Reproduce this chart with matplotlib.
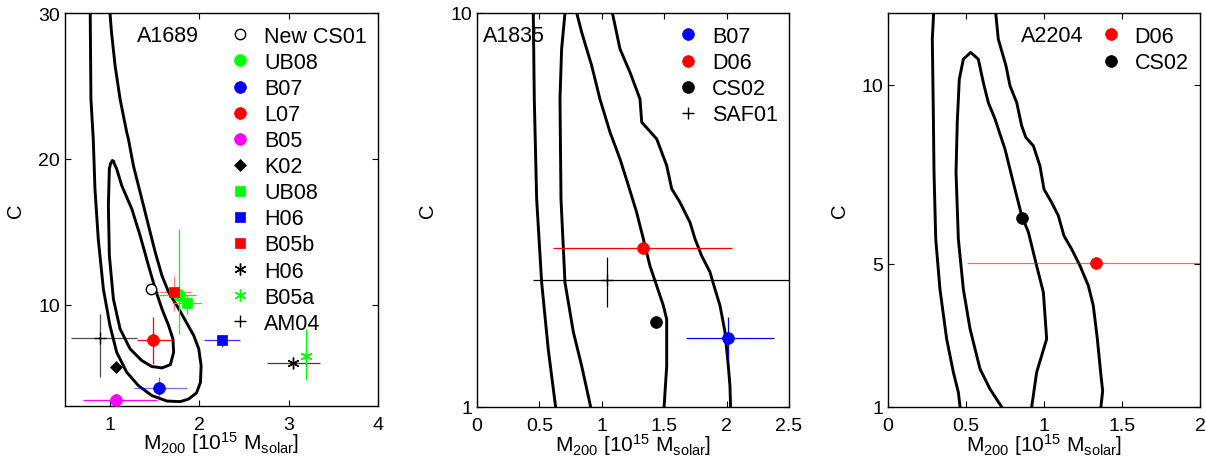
import numpy as np
import matplotlib
matplotlib.use('Agg')
import matplotlib.pyplot as plt
from matplotlib.lines import Line2D
from matplotlib.ticker import NullLocator
from matplotlib.colors import to_rgba

plt.rcParams['font.family'] = ['Liberation Sans', 'DejaVu Sans']
plt.rcParams['mathtext.fontset'] = 'custom'
plt.rcParams['mathtext.rm'] = 'Liberation Sans'
plt.rcParams['mathtext.it'] = 'Liberation Sans:italic'
plt.rcParams['mathtext.bf'] = 'Liberation Sans:bold'

nan = np.nan

# ---------------- A1689 ----------------
a1689_labels = ['New CS01', 'UB08', 'B07', 'L07', 'B05', 'K02',
                'UB08', 'H06', 'B05b', 'H06', 'B05a', 'AM04']
a1689_m = [1.46, 1.77, 1.555, 1.48, 1.07, 1.067, 1.865, 2.25, 1.72, 3.05, 3.19, 0.89]
a1689_c = [11.1, 10.68, 4.29, 7.62, 3.49, 5.73, 10.12, 7.62, 10.87, 6.0, 6.5, 7.72]
a1689_m_lo = [nan, 1.55, 1.27, 1.30, 0.70, nan, 1.70, 2.05, 1.53, 2.755, nan, 0.565]
a1689_m_hi = [nan, 1.96, 1.865, 1.70, 1.53, nan, 2.02, 2.46, 1.91, 3.355, nan, 1.31]
a1689_c_lo = [nan, 8.0, 3.5, 5.96, 3.0, nan, 9.38, 7.12, 9.6, nan, 4.88, 5.09]
a1689_c_hi = [nan, 15.2, 5.09, 9.17, 3.9, nan, 10.75, 7.95, 12.0, nan, 8.36, 9.38]

a1689_outer_m = [0.781, 0.782, 0.79, 0.816, 0.835, 0.872, 0.929, 1.003, 1.078, 1.19,
                 1.322, 1.472, 1.64, 1.79, 1.883, 1.97, 2.015, 2.022, 1.996, 1.94,
                 1.846, 1.752, 1.659, 1.584, 1.509, 1.434, 1.359, 1.265, 1.209, 1.19,
                 1.116, 1.06, 1.02, 1.003, 1.0]
a1689_outer_c = [31, 30, 24.1, 21.37, 17.95, 14.52, 11.10, 8.58, 6.76, 5.39,
                 4.47, 3.79, 3.42, 3.38, 3.56, 3.97, 4.70, 5.85, 6.99, 7.9,
                 8.93, 9.95, 10.87, 12.01, 13.61, 15.43, 17.26, 19.54, 21.37, 21.83,
                 24.1, 26.4, 28.68, 30, 31]
a1689_inner_m = [1.041, 1.03, 1.01, 0.996, 0.985, 0.996, 1.041, 1.116, 1.228, 1.359,
                 1.472, 1.584, 1.678, 1.715, 1.707, 1.659, 1.584, 1.509, 1.434, 1.34,
                 1.247, 1.135, 1.078, 1.041]
a1689_inner_c = [19.82, 19.9, 19.7, 19.32, 16.8, 13.38, 10.41, 8.36, 6.99, 6.19,
                 5.78, 5.69, 5.91, 6.76, 7.67, 8.58, 9.73, 11.10, 12.69, 14.75,
                 16.58, 18.17, 19.32, 19.82]

# ---------------- A1835 ----------------
a1835_labels = ['B07', 'D06', 'CS02', 'SAF01']
a1835_m = [2.009, 1.328, 1.434, 1.039]
a1835_c = [1.494, 2.53, 1.646, 2.10]
a1835_m_lo = [1.675, 0.611, nan, 0.446]
a1835_m_hi = [2.382, 2.041, nan, 2.7]
a1835_c_lo = [1.318, nan, nan, 1.79]
a1835_c_hi = [1.696, nan, nan, 2.40]

a1835_curve1_m = [0.451, 0.459, 0.478, 0.518, 0.571, 0.63]
a1835_curve1_c = [10.0, 6.05, 3.37, 2.07, 1.40, 1.0]
a1835_curve2_m = [0.705, 0.678, 0.665, 0.673, 0.705, 0.772, 0.839, 0.911]
a1835_curve2_c = [10.0, 8.10, 6.05, 3.37, 2.07, 1.55, 1.27, 1.0]
a1835_curve3_m = [0.799, 0.839, 0.919, 0.985, 1.066, 1.146, 1.213, 1.279, 1.333,
                  1.386, 1.44, 1.493, 1.52, 1.52, 1.499]
a1835_curve3_c = [10.0, 8.93, 7.35, 6.05, 4.98, 4.26, 3.65, 3.12, 2.67,
                  2.28, 2.03, 1.81, 1.67, 1.27, 1.0]
a1835_curve4_m = [1.085, 1.146, 1.226, 1.306, 1.32, 1.44, 1.52, 1.56, 1.626, 1.707,
                  1.747, 1.8, 1.867, 1.907, 1.947, 1.987, 2.014, 2.027, 2.032]
a1835_curve4_c = [10.0, 8.10, 7.07, 6.05, 5.28, 4.79, 4.10, 3.58, 3.31, 2.94,
                  2.67, 2.42, 2.20, 1.99, 1.81, 1.55, 1.27, 1.13, 1.0]

# ---------------- A2204 ----------------
a2204_labels = ['D06', 'CS02']
a2204_m = [1.331, 0.861]
a2204_c = [5.02, 6.29]
a2204_m_lo = [0.509, nan]
a2204_m_hi = [2.3, nan]

a2204_curveA_m = [0.295, 0.284, 0.290, 0.295, 0.306, 0.333, 0.376, 0.419, 0.451, 0.462]
a2204_curveA_c = [12.2, 11.27, 9.41, 7.55, 5.69, 4.29, 2.90, 1.97, 1.41, 1.0]
a2204_curveB_m = [0.729, 0.654, 0.59, 0.526, 0.483, 0.451, 0.436, 0.444, 0.457, 0.483,
                  0.530, 0.579, 0.611, 0.643, 0.686, 0.750, 0.803, 0.857, 0.9, 0.953,
                  0.996, 1.017, 0.953, 0.921]
a2204_curveB_c = [1.0, 1.50, 2.06, 3.18, 4.29, 5.69, 7.55, 8.95, 10.15, 10.71,
                  10.90, 10.71, 10.06, 9.50, 9.04, 8.20, 7.27, 6.34, 5.88, 4.94,
                  4.20, 2.90, 1.97, 1.0]
a2204_curveC_m = [0.686, 0.707, 0.756, 0.782, 0.825, 0.857, 0.883, 0.932, 0.974, 1.0,
                  1.049, 1.092, 1.128, 1.177, 1.231, 1.284, 1.316, 1.342, 1.363, 1.376, 1.365]
a2204_curveC_c = [12.2, 11.27, 10.53, 9.97, 9.50, 8.85, 8.53, 8.29, 7.73, 7.08,
                  6.71, 6.34, 5.78, 5.41, 4.94, 4.39, 3.83, 2.90, 1.97, 1.45, 1.0]

GREEN = '#00ff00'
BLUE = '#0000ff'
RED = '#ff0000'
MAG = '#ff00ff'
BLACK = '#000000'
STAR = (6, 2, 0)

a1689_style = [  # marker, color, facecolor, size, errorbar alpha
    ('o', BLACK, 'white', 7.5, 1.0),
    ('o', GREEN, GREEN, 8.5, 1.0),
    ('o', BLUE, BLUE, 8.5, 0.55),
    ('o', RED, RED, 8.5, 1.0),
    ('o', MAG, MAG, 8.5, 1.0),
    ('D', BLACK, BLACK, 6.5, 1.0),
    ('s', GREEN, GREEN, 7.0, 1.0),
    ('s', BLUE, BLUE, 7.0, 0.8),
    ('s', RED, RED, 7.0, 0.5),
    (STAR, BLACK, BLACK, 8.5, 0.75),
    (STAR, GREEN, GREEN, 8.5, 1.0),
    ('+', BLACK, BLACK, 8.0, 0.7),
]
a1835_style = [
    ('o', BLUE, BLUE, 8.5, 1.0),
    ('o', RED, RED, 8.5, 1.0),
    ('o', BLACK, BLACK, 8.5, 1.0),
    ('+', BLACK, BLACK, 8.0, 1.0),
]
a2204_style = [
    ('o', RED, RED, 8.5, 0.6),
    ('o', BLACK, BLACK, 8.5, 1.0),
]

CONTOUR_LW = 2.1
ERR_LW = 0.9
TICK_FS = 14
LAB_FS = 14.5
XLAB_FS = 15
LEG_FS = 15.5

fig = plt.figure(figsize=(12.05, 4.64), dpi=100)
ax1 = fig.add_axes([65 / 1205, 1 - 407 / 464, 313 / 1205, 393 / 464])
ax2 = fig.add_axes([477 / 1205, 1 - 408 / 464, 312 / 1205, 394 / 464])
ax3 = fig.add_axes([888 / 1205, 1 - 408 / 464, 312 / 1205, 394 / 464])


def draw_points(ax, m, c, mlo, mhi, clo, chi, styles, labels):
    handles = []
    for i in range(len(m)):
        mk, col, fc, ms, ea = styles[i]
        ecol = to_rgba(col, ea)
        xerr = None
        yerr = None
        if not np.isnan(mlo[i]):
            xerr = [[m[i] - mlo[i]], [mhi[i] - m[i]]]
        if clo is not None and not np.isnan(clo[i]):
            yerr = [[c[i] - clo[i]], [chi[i] - c[i]]]
        if xerr is not None or yerr is not None:
            ax.errorbar([m[i]], [c[i]], xerr=xerr, yerr=yerr, fmt='none',
                        ecolor=ecol, elinewidth=ERR_LW, capsize=0, zorder=3)
        mew = 1.0 if mk in ('+', STAR) or fc == 'white' else 0.5
        ax.plot([m[i]], [c[i]], linestyle='none', marker=mk, markersize=ms,
                markerfacecolor=fc, markeredgecolor=col, markeredgewidth=mew, zorder=4)
        handles.append(Line2D([], [], linestyle='none', marker=mk, markersize=ms,
                              markerfacecolor=fc, markeredgecolor=col,
                              markeredgewidth=mew, label=labels[i]))
    return handles


def style_axes(ax):
    ax.tick_params(direction='in', top=True, right=True, length=4, width=0.8,
                   labelsize=TICK_FS)
    ax.tick_params(axis='x', pad=7)
    ax.tick_params(axis='y', pad=3.5)
    for s in ax.spines.values():
        s.set_linewidth(1.0)
    ax.set_xlabel(r'M$_\mathrm{200}$ [10$^\mathrm{15}$ M$_\mathrm{solar}$]', fontsize=XLAB_FS)
    ax.set_ylabel('C', fontsize=LAB_FS)
    ax.xaxis.set_label_coords(0.5, -0.06)


def make_legend(ax, handles, x):
    ax.legend(handles=handles, loc='upper left', bbox_to_anchor=(x, 0.967),
              frameon=False, fontsize=LEG_FS, handlelength=1.0, handletextpad=0.62,
              labelspacing=0.235, borderpad=0, borderaxespad=0, numpoints=1)


# --- panel 1
ax1.plot(a1689_outer_m, a1689_outer_c, color='k', lw=CONTOUR_LW, zorder=2)
ax1.plot(a1689_inner_m, a1689_inner_c, color='k', lw=CONTOUR_LW, zorder=2)
h1 = draw_points(ax1, a1689_m, a1689_c, a1689_m_lo, a1689_m_hi, a1689_c_lo, a1689_c_hi,
                 a1689_style, a1689_labels)
ax1.set_xlim(0.5, 4)
ax1.set_ylim(3.08, 30)
ax1.set_xticks([1, 2, 3, 4])
ax1.set_yticks([10, 20, 30])
style_axes(ax1)
ax1.yaxis.set_label_coords(-0.128, 0.5)
make_legend(ax1, h1, 0.524)
ax1.text(0.230, 0.944, 'A1689', transform=ax1.transAxes, fontsize=LEG_FS, va='center')

# --- panel 2
for cm, cc in [(a1835_curve1_m, a1835_curve1_c), (a1835_curve2_m, a1835_curve2_c),
               (a1835_curve3_m, a1835_curve3_c), (a1835_curve4_m, a1835_curve4_c)]:
    ax2.plot(cm, cc, color='k', lw=CONTOUR_LW, zorder=2)
h2 = draw_points(ax2, a1835_m, a1835_c, a1835_m_lo, a1835_m_hi, a1835_c_lo, a1835_c_hi,
                 a1835_style, a1835_labels)
ax2.set_yscale('log')
ax2.set_xlim(0, 2.5)
ax2.set_ylim(1, 10)
ax2.yaxis.set_minor_locator(NullLocator())
ax2.set_yticks([1, 10])
ax2.set_yticklabels(['1', '10'])
ax2.set_xticks([0, 0.5, 1, 1.5, 2, 2.5])
ax2.set_xticklabels(['0', '0.5', '1', '1.5', '2', '2.5'])
style_axes(ax2)
ax2.yaxis.set_label_coords(-0.129, 0.5)
make_legend(ax2, h2, 0.641)
ax2.text(0.019, 0.944, 'A1835', transform=ax2.transAxes, fontsize=LEG_FS, va='center')

# --- panel 3
for cm, cc in [(a2204_curveA_m, a2204_curveA_c), (a2204_curveB_m, a2204_curveB_c),
               (a2204_curveC_m, a2204_curveC_c)]:
    ax3.plot(cm, cc, color='k', lw=CONTOUR_LW, zorder=2)
h3 = draw_points(ax3, a2204_m, a2204_c, a2204_m_lo, a2204_m_hi, None, None,
                 a2204_style, a2204_labels)
ax3.set_xlim(0, 2)
ax3.set_ylim(1, 12)
ax3.set_xticks([0, 0.5, 1, 1.5, 2])
ax3.set_xticklabels(['0', '0.5', '1', '1.5', '2'])
ax3.set_yticks([1, 5, 10])
style_axes(ax3)
ax3.yaxis.set_label_coords(-0.125, 0.5)
make_legend(ax3, h3, 0.679)
ax3.text(0.426, 0.944, 'A2204', transform=ax3.transAxes, fontsize=LEG_FS, va='center')

fig.savefig('out.png', dpi=100)
